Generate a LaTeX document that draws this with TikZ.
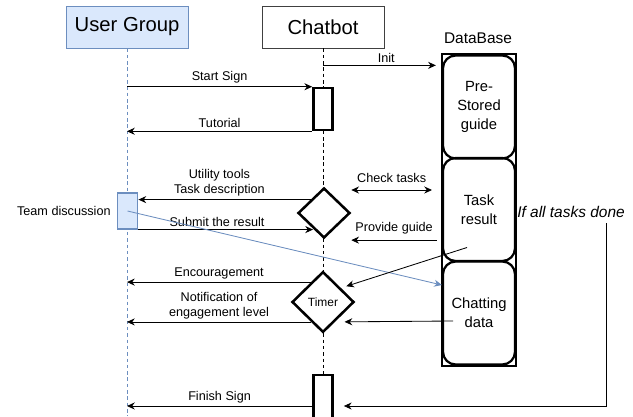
\documentclass[tikz,border=0pt]{standalone}
\usepackage{fontspec}
\setmainfont{Liberation Sans}
\usepackage{tikz}
\usetikzlibrary{shapes, calc, arrows.meta}

\definecolor{groupfill}{HTML}{DAE8FC}
\definecolor{groupline}{HTML}{6C8EBF}

\tikzset{
    head/.style={draw, line width=0.6pt, minimum width=3.05cm, minimum height=1.05cm,
        font=\fontsize{14.4}{16}\selectfont},
    msg/.style={->, line width=0.6pt},
    lbl/.style={font=\fontsize{9}{10.5}\selectfont, align=center, inner sep=2pt},
    life/.style={dash pattern=on 2.5pt off 2pt, line width=0.5pt},
    act/.style={draw, line width=1.8pt, fill=white, inner sep=0pt, minimum width=0.48cm},
    check/.style={diamond, draw, line width=1.8pt, fill=white, inner sep=0pt},
    store/.style={draw, line width=1.6pt, rounded corners=9pt, minimum width=1.8cm,
        minimum height=2.575cm, align=center, font=\fontsize{10.5}{13.5}\selectfont}
}

\begin{document}
\begin{tikzpicture}[x=0.025cm, y=-0.025cm, >={Stealth[length=5.5pt,width=5pt]}]
    \useasboundingbox (0,0) rectangle (633,416);

    \node[head, fill=groupfill, draw=groupline] (user) at (127,27) {User Group};
    \node[head, draw=black!75] (chatbot) at (323,27) {Chatbot};

    \draw[life, draw=groupline] (user.south) -- (user.south |- 0,416);
    \draw[life] (chatbot.south) -- (chatbot.south |- 0,416);

    \node[act, minimum height=1.05cm] (act1) at (323,109) {};
    \node[act, minimum height=1.55cm] (act2) at (323,406) {};
    \node[check, minimum width=1.3cm, minimum height=1.25cm] (tasks) at (324,213) {};
    \node[check, minimum width=1.55cm, minimum height=1.52cm,
        font=\fontsize{8.5}{10}\selectfont] (timer) at (323,302) {Timer};
    \node[draw=groupline, fill=groupfill, line width=0.8pt, minimum width=0.52cm,
        minimum height=0.9cm, label={[lbl, label distance=2pt]left:Team discussion}] (team) at (127.5,211) {};

    \node[lbl, font=\fontsize{11}{13}\selectfont] (dbname) at (478,38) {DataBase};
    \node[store] (pre) at (479,107) {Pre-\\Stored\\guide};
    \node[store] (res) at (479,209.5) {Task\\result};
    \node[store] (chat) at (479,313) {Chatting\\data};
    \draw[line width=1.6pt] (pre.north west) rectangle (chat.south east);

    \coordinate (dbin) at ($(pre.north west)+(-6,11)$);
    \draw[msg] (dbin -| chatbot) -- node[lbl, above, pos=0.56] {Init} (dbin);
    \draw[msg] (act1.north west -| user) -- node[lbl, above] {Start Sign} (act1.north west);
    \draw[msg] (act1.south west) -- node[lbl, above] {Tutorial} (act1.south west -| user);

    \draw[msg] (tasks.135) -- node[lbl, above, pos=0.53] {Utility tools\\Task description} (tasks.135 -| team.east);
    \draw[msg] (team.south east) -- node[lbl, above, pos=0.45] {Submit the result} (team.south east -| tasks.-125);
    \draw[msg, groupline] (team.center) -- (chat.143);

    \coordinate (chk) at (432,190);
    \draw[msg, <->] (chk -| tasks.east) -- node[lbl, above, yshift=3pt] {Check tasks} (chk);
    \coordinate (guide) at ($(res.south west)+(-5,-22)$);
    \draw[msg] (guide) -- node[lbl, above, yshift=2pt] {Provide guide} (guide -| tasks.east);

    \draw[msg, shorten >=4pt] ($(res.center)+(-12,38)$) -- (timer.38);
    \draw[msg, shorten >=6.8pt] ($(chat.center)+(-26,8)$) -- (timer.-59);
    \draw[msg] (timer.121) -- node[lbl, above] {Encouragement} (timer.121 -| user);
    \draw[msg] (timer.-121) -- node[lbl, above] {Notification of\\engagement level} (timer.-121 -| user);

    \draw[msg] (act2.west) -- node[lbl, above] {Finish Sign} (act2.west -| user);
    \node[font=\fontsize{11}{13}\selectfont\itshape, inner sep=1pt] (done) at (571,212) {If all tasks done};
    \draw[msg] ($(done.south)+(35,4)$) |- ($(act2.east)+(10,0)$);
\end{tikzpicture}
\end{document}
